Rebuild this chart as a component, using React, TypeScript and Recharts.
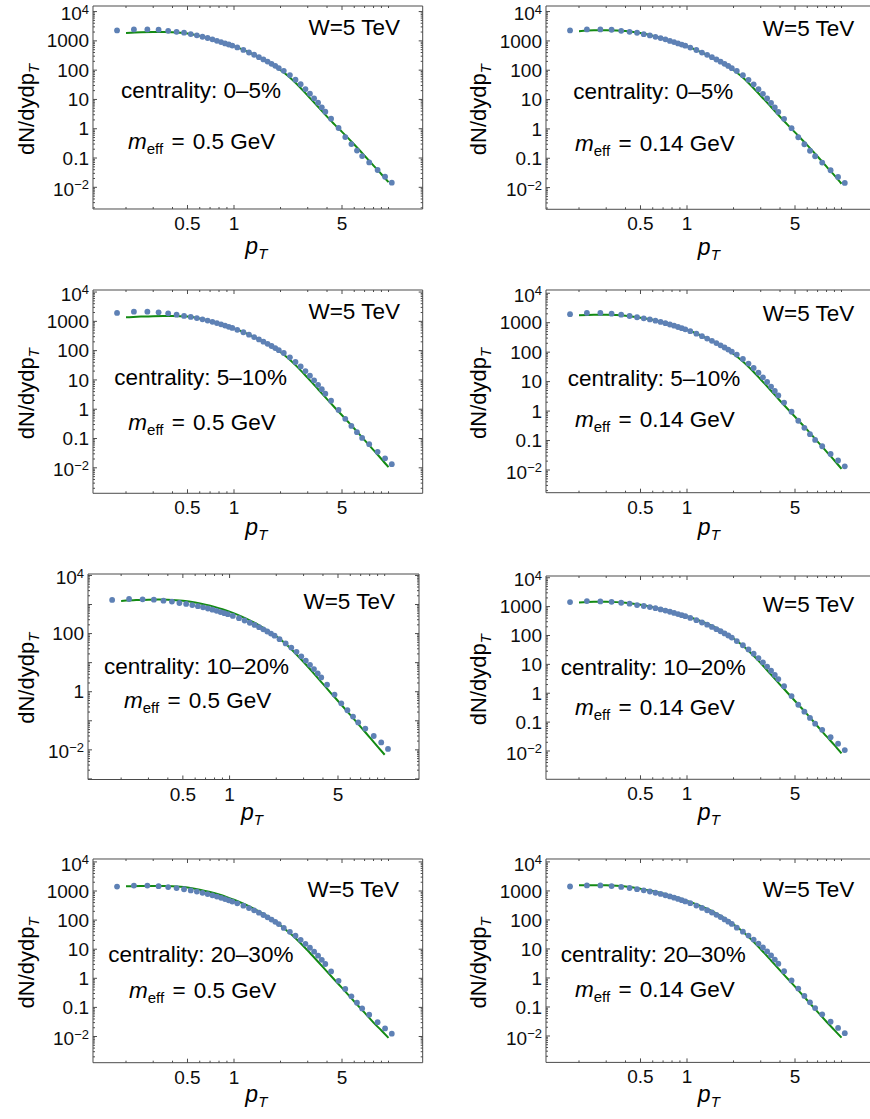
import { ComposedChart, Line, Scatter, XAxis, YAxis } from "recharts"

// pT bin centres (GeV) of the measured spectra, shared by all panels
const PT = [
  0.175, 0.225, 0.275, 0.325, 0.375, 0.425, 0.475, 0.525, 0.575, 0.625, 0.675, 0.725, 0.775, 0.825, 0.875, 0.925, 0.975,
  1.05, 1.15, 1.25, 1.35, 1.45, 1.55, 1.65, 1.75, 1.85, 1.95,
  2.1, 2.3, 2.5, 2.7, 2.9, 3.1, 3.3, 3.5, 3.7, 3.9,
  4.25, 4.75, 5.25, 5.75, 6.25, 6.75, 7.5, 8.5, 9.5, 10.5,
]

// dN/dydpT per centrality class (same data in both columns)
const DATA_0_5 = [
  2280, 2460, 2460, 2400, 2200, 2040, 1900, 1700, 1540, 1380, 1250, 1130, 1000, 910, 820, 750, 690,
  595, 490, 400, 335, 278, 232, 196, 165, 140, 118,
  95, 68, 47, 33, 22.6, 15.7, 10.9, 7.7, 5.4, 3.8,
  2.2, 1.06, 0.52, 0.3, 0.18, 0.117, 0.071, 0.039, 0.023, 0.0144,
]
const DATA_5_10 = [
  1940, 2140, 2140, 2030, 1875, 1690, 1530, 1410, 1290, 1170, 1060, 960, 870, 790, 715, 650, 595,
  515, 425, 350, 290, 242, 203, 171, 144, 122, 104,
  83, 59, 41, 29, 20, 14, 9.7, 6.8, 4.8, 3.4,
  1.95, 0.95, 0.47, 0.27, 0.165, 0.105, 0.064, 0.035, 0.021, 0.0133,
]
const DATA_10_20 = [
  1435, 1550, 1510, 1470, 1360, 1260, 1130, 1050, 960, 880, 800, 730, 665, 605, 550, 505, 465,
  405, 338, 282, 236, 198, 166, 140, 118, 100, 85,
  64, 46, 33, 23.5, 16.5, 11.8, 8.4, 6.0, 4.3, 3.1,
  1.75, 0.8, 0.4, 0.23, 0.14, 0.088, 0.054, 0.03, 0.018, 0.0108,
]
const DATA_20_30 = [
  1420, 1540, 1540, 1470, 1370, 1260, 1150, 1050, 955, 865, 785, 710, 645, 585, 530, 480, 435,
  378, 313, 260, 216, 180, 150, 125, 104, 87, 73,
  54, 39.5, 29, 21, 15.3, 11.2, 8.2, 6.0, 4.3, 3.1,
  1.72, 0.82, 0.43, 0.24, 0.145, 0.092, 0.056, 0.031, 0.019, 0.0125,
]

// model curves
const FIT_PT = [0.2, 0.25, 0.3, 0.35, 0.4, 0.45, 0.5, 0.6, 0.7, 0.8, 0.9, 1.0, 1.2, 1.4, 1.6, 1.8, 2.0, 2.25, 2.5, 3.0, 3.5, 4.0, 4.5, 5.0, 6.0, 7.0, 8.0, 9.0, 10.0]
const FIT_0_5_M050 = [1850, 1960, 2000, 2000, 1960, 1890, 1780, 1480, 1200, 960, 790, 660, 445, 305, 210, 143, 100, 62, 37, 13.5, 5.6, 2.6, 1.35, 0.78, 0.29, 0.12, 0.055, 0.028, 0.015]
const FIT_0_5_M014 = [2150, 2300, 2330, 2280, 2180, 2030, 1860, 1500, 1210, 970, 790, 655, 440, 300, 207, 142, 100, 62, 37, 13.5, 5.6, 2.6, 1.35, 0.76, 0.28, 0.115, 0.052, 0.026, 0.0135]
const FIT_5_10_M050 = [1370, 1450, 1500, 1515, 1510, 1490, 1460, 1250, 1040, 840, 690, 575, 390, 268, 184, 126, 88, 54, 32, 11.7, 4.8, 2.2, 1.12, 0.62, 0.22, 0.088, 0.04, 0.02, 0.0105]
const FIT_5_10_M014 = [1780, 1860, 1870, 1820, 1720, 1600, 1480, 1250, 1040, 845, 690, 575, 390, 266, 182, 125, 87, 53, 32, 11.8, 4.9, 2.25, 1.15, 0.64, 0.23, 0.092, 0.042, 0.021, 0.011]
const FIT_10_20_M050 = [1330, 1420, 1470, 1480, 1460, 1410, 1340, 1170, 990, 830, 690, 570, 385, 260, 175, 118, 80, 49, 29, 10.5, 4.2, 1.85, 0.9, 0.48, 0.16, 0.062, 0.027, 0.013, 0.0068]
const FIT_10_20_M014 = [1390, 1460, 1470, 1430, 1350, 1250, 1150, 960, 800, 665, 555, 465, 330, 235, 165, 114, 79, 49, 29.5, 11, 4.4, 2.0, 1.0, 0.54, 0.185, 0.072, 0.032, 0.016, 0.0083]
const FIT_20_30_M050 = [1450, 1490, 1500, 1490, 1460, 1400, 1310, 1110, 925, 760, 615, 500, 330, 220, 148, 98, 65, 39, 24, 9, 3.7, 1.7, 0.86, 0.47, 0.16, 0.066, 0.03, 0.016, 0.009]
const FIT_20_30_M014 = [1560, 1580, 1560, 1500, 1420, 1310, 1190, 990, 815, 670, 550, 455, 318, 222, 153, 104, 71, 43.5, 26.5, 9.8, 4.0, 1.82, 0.92, 0.5, 0.17, 0.068, 0.031, 0.016, 0.0088]

// axes
const X_DOMAIN: [number, number] = [0.1223, 16.64]
const X_TICKS = [0.2, 0.3, 0.4, 0.5, 0.6, 0.7, 0.8, 0.9, 1, 2, 3, 4, 5, 6, 7, 8, 9, 10]
const X_LABELS: Record<number, string> = { 0.5: "0.5", 1: "1", 5: "5" }
const Y_DECADES = [-3, -2, -1, 0, 1, 2, 3, 4]
const Y_STEPS = [1, 2, 3, 4, 5, 6, 7, 8, 9]
const Y_LABELS_ALL: Record<string, string[]> = {
  "-2": ["10", "\u22122"],
  "-1": ["0.1"],
  "0": ["1"],
  "1": ["10"],
  "2": ["100"],
  "3": ["1000"],
  "4": ["10", "4"],
}
const Y_LABELS_SPARSE: Record<string, string[]> = {
  "-2": ["10", "\u22122"],
  "0": ["1"],
  "2": ["100"],
  "4": ["10", "4"],
}
const Y_TICKS = Y_DECADES.flatMap((d) => Y_STEPS.map((m) => m * 10 ** d))

const FONT = "'Liberation Sans', Arial, Helvetica, sans-serif"
const DOT = "#5e81b5"
const FIT = "#138a13"
const FRAME = "#4a4a4a"
const INK = "#0d0d0d"
const TICK_FONT = 19

type PanelSpec = {
  id: string
  left: number
  top: number
  width: number
  height: number
  yLog: [number, number]
  data: number[]
  fit: number[]
  cent: string
  meff: string
  yLabels: Record<string, string[]>
  w: [number, number]
  c: [number, number]
  m: [number, number]
  yTitleX: number
  xTitleY: number
}

const PANELS: PanelSpec[] = [
  { id: "a", left: 93, top: 6, width: 329.7, height: 203, yLog: [-2.74, 4.19], data: DATA_0_5, fit: FIT_0_5_M050, cent: "0\u20135%", meff: "0.5", yLabels: Y_LABELS_ALL, w: [400, 35], c: [121, 98], m: [128, 149], yTitleX: 34, xTitleY: 254 },
  { id: "b", left: 545.5, top: 6, width: 329.7, height: 203.3, yLog: [-2.74, 4.19], data: DATA_0_5, fit: FIT_0_5_M014, cent: "0\u20135%", meff: "0.14", yLabels: Y_LABELS_ALL, w: [854.3, 35.5], c: [573.3, 99], m: [575, 151], yTitleX: 485.5, xTitleY: 254.5 },
  { id: "c", left: 93, top: 290, width: 329.7, height: 203.3, yLog: [-2.87, 4.07], data: DATA_5_10, fit: FIT_5_10_M050, cent: "5\u201310%", meff: "0.5", yLabels: Y_LABELS_ALL, w: [400, 318.5], c: [114.3, 385], m: [128.3, 430], yTitleX: 34, xTitleY: 535 },
  { id: "d", left: 545.5, top: 290, width: 329.7, height: 202.7, yLog: [-2.77, 4.11], data: DATA_5_10, fit: FIT_5_10_M014, cent: "5\u201310%", meff: "0.14", yLabels: Y_LABELS_ALL, w: [854.3, 320.5], c: [567.7, 386], m: [575, 426.5], yTitleX: 485.5, xTitleY: 535 },
  { id: "e", left: 88, top: 573.5, width: 331, height: 205.5, yLog: [-3.02, 4.05], data: DATA_10_20, fit: FIT_10_20_M050, cent: "10\u201320%", meff: "0.5", yLabels: Y_LABELS_SPARSE, w: [395, 609.3], c: [104, 674.3], m: [124, 708.3], yTitleX: 34, xTitleY: 820 },
  { id: "f", left: 545.5, top: 576, width: 329.7, height: 203.3, yLog: [-2.98, 4.06], data: DATA_10_20, fit: FIT_10_20_M014, cent: "10\u201320%", meff: "0.14", yLabels: Y_LABELS_ALL, w: [854.3, 611.7], c: [560.7, 675], m: [575, 715], yTitleX: 485.5, xTitleY: 820 },
  { id: "g", left: 93, top: 859, width: 329.7, height: 203.7, yLog: [-2.9, 4.1], data: DATA_20_30, fit: FIT_20_30_M050, cent: "20\u201330%", meff: "0.5", yLabels: Y_LABELS_ALL, w: [399, 896.7], c: [108.3, 961.7], m: [129, 998.3], yTitleX: 34, xTitleY: 1102 },
  { id: "h", left: 545.5, top: 859.3, width: 329.7, height: 203.4, yLog: [-2.91, 4.1], data: DATA_20_30, fit: FIT_20_30_M014, cent: "20\u201330%", meff: "0.14", yLabels: Y_LABELS_ALL, w: [854.3, 897.3], c: [560.7, 961.7], m: [575, 996.7], yTitleX: 485.5, xTitleY: 1102 },
]

function decadeOf(v: number) {
  const lg = Math.log10(v)
  const d = Math.round(lg)
  return { major: Math.abs(lg - d) < 1e-6, d }
}

function makeXTick(side: "bottom" | "top") {
  return (props: any) => {
    const { x, y, payload } = props
    const lab = X_LABELS[payload.value]
    const len = lab !== undefined ? 4 : 2
    const dir = side === "bottom" ? -1 : 1
    return (
      <g>
        <line x1={x} y1={y} x2={x} y2={y + dir * len} stroke={FRAME} strokeWidth={1} />
        {side === "bottom" && lab !== undefined && (
          <text x={x} y={y + 21} textAnchor="middle" fontSize={TICK_FONT} fill={INK} fontFamily={FONT}>
            {lab}
          </text>
        )}
      </g>
    )
  }
}

function makeYTick(side: "left" | "right", labels: Record<string, string[]>) {
  return (props: any) => {
    const { x, y, payload } = props
    const { major, d } = decadeOf(payload.value)
    const len = major ? 4 : 2
    const dir = side === "left" ? 1 : -1
    const lab = side === "left" && major ? labels[String(d)] : undefined
    // a power label is centred as a whole, so its "10" sits a little lower
    const base = lab && lab[1] ? 8.6 : 6.6
    return (
      <g>
        <line x1={x} y1={y} x2={x + dir * len} y2={y} stroke={FRAME} strokeWidth={1} />
        {lab && (
          <text x={x - 4} y={y + base} textAnchor="end" fontSize={TICK_FONT} fill={INK} fontFamily={FONT}>
            {lab[0]}
            {lab[1] && (
              <tspan dy={-6.5} fontSize={13}>
                {lab[1]}
              </tspan>
            )}
          </text>
        )}
      </g>
    )
  }
}

// space around the frame; each axis takes 1px of it so that it gets drawn
const ML = 93
const MT = 16
const MR = 4
const MB = 58
const AX = 1

function Panel({ p }: { p: PanelSpec }) {
  const yDomain: [number, number] = [10 ** p.yLog[0], 10 ** p.yLog[1]]
  const yTicks = Y_TICKS.filter((v) => v >= yDomain[0] && v <= yDomain[1])
  const dots = PT.map((x, i) => ({ x, y: p.data[i] }))
  const curve = FIT_PT.map((x, i) => ({ x, y: p.fit[i] }))
  const axisLine = { stroke: FRAME, strokeWidth: 1 }
  return (
    <div style={{ position: "absolute", left: p.left - ML, top: p.top - MT }}>
      <ComposedChart
        width={p.width + ML + MR}
        height={p.height + MT + MB}
        margin={{ left: ML - AX, top: MT - AX, right: MR - AX, bottom: MB - AX }}
      >
        <XAxis
          xAxisId="b"
          orientation="bottom"
          dataKey="x"
          type="number"
          scale="log"
          domain={X_DOMAIN}
          allowDataOverflow
          ticks={X_TICKS}
          interval={0}
          height={AX}
          tickSize={0}
          tickMargin={0}
          tickLine={false}
          axisLine={axisLine}
          tick={makeXTick("bottom")}
        />
        <XAxis
          xAxisId="t"
          orientation="top"
          dataKey="x"
          type="number"
          scale="log"
          domain={X_DOMAIN}
          allowDataOverflow
          ticks={X_TICKS}
          interval={0}
          height={AX}
          tickSize={0}
          tickMargin={0}
          tickLine={false}
          axisLine={axisLine}
          tick={makeXTick("top")}
        />
        <YAxis
          yAxisId="l"
          orientation="left"
          dataKey="y"
          type="number"
          scale="log"
          domain={yDomain}
          allowDataOverflow
          ticks={yTicks}
          interval={0}
          width={AX}
          tickSize={0}
          tickMargin={0}
          tickLine={false}
          axisLine={axisLine}
          tick={makeYTick("left", p.yLabels)}
        />
        <YAxis
          yAxisId="r"
          orientation="right"
          dataKey="y"
          type="number"
          scale="log"
          domain={yDomain}
          allowDataOverflow
          ticks={yTicks}
          interval={0}
          width={AX}
          tickSize={0}
          tickMargin={0}
          tickLine={false}
          axisLine={axisLine}
          tick={makeYTick("right", p.yLabels)}
        />
        <Line
          xAxisId="b"
          yAxisId="l"
          data={curve}
          dataKey="y"
          type="monotone"
          stroke={FIT}
          strokeWidth={2}
          dot={false}
          activeDot={false}
          isAnimationActive={false}
        />
        <Scatter
          xAxisId="b"
          yAxisId="l"
          data={dots}
          dataKey="y"
          fill={DOT}
          shape={(s: any) => <circle cx={s.cx} cy={s.cy} r={2.9} fill={DOT} />}
          isAnimationActive={false}
        />
      </ComposedChart>
    </div>
  )
}

function Annotations() {
  return (
    <svg
      width={870}
      height={1119}
      style={{ position: "absolute", left: 0, top: 0, pointerEvents: "none" }}
      fontFamily={FONT}
      fill="#000"
    >
      {PANELS.map((p) => (
        <g key={p.id}>
          <text x={p.w[0]} y={p.w[1]} textAnchor="end" fontSize={22.5}>
            W=5 TeV
          </text>
          <text x={p.c[0]} y={p.c[1]} fontSize={22.5}>
            {"centrality: " + p.cent}
          </text>
          <text x={p.m[0]} y={p.m[1]} fontSize={22.5}>
            <tspan fontStyle="italic">m</tspan>
            <tspan fontSize={15} dy={5}>
              eff
            </tspan>
            <tspan dy={-5} dx={2}>
              {"\u00a0="}
            </tspan>
            <tspan dx={2}>{"\u00a0" + p.meff + " GeV"}</tspan>
          </text>
          <text
            transform={`translate(${p.yTitleX},${p.top + p.height / 2 + 2}) rotate(-90)`}
            textAnchor="middle"
            fontSize={22}
          >
            dN/dydp
            <tspan fontSize={15} dy={5} fontStyle="italic">
              T
            </tspan>
          </text>
          <text x={p.left + p.width / 2 - 1.5} y={p.xTitleY} textAnchor="middle" fontSize={23} fontStyle="italic">
            p
            <tspan fontSize={15} dy={5}>
              T
            </tspan>
          </text>
        </g>
      ))}
    </svg>
  )
}

export default function App() {
  return (
    <div
      style={{
        position: "absolute",
        left: 0,
        top: 0,
        width: 870,
        height: 1119,
        overflow: "hidden",
        background: "#fff",
      }}
    >
      {PANELS.map((p) => (
        <Panel key={p.id} p={p} />
      ))}
      <Annotations />
    </div>
  )
}
